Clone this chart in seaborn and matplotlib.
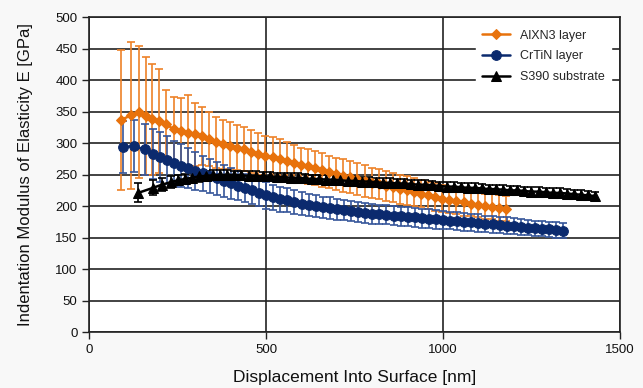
import numpy as np
import matplotlib
matplotlib.use("Agg")
import matplotlib.pyplot as plt
import seaborn as sns

# AlXN3 layer (orange diamonds)
alxn_x = [90, 118, 140, 160, 178, 196, 217, 238, 258, 278, 298, 318, 338, 358, 378,
          398, 418, 438, 458, 478, 498, 518, 538, 558, 578, 598, 618, 638, 658, 678,
          698, 718, 738, 758, 778, 798, 818, 838, 858, 878, 898, 918, 938, 958, 978,
          998, 1018, 1038, 1058, 1078, 1098, 1118, 1138, 1158, 1178]
alxn_y = [337, 344, 349, 343, 338, 335, 330, 322, 319, 316, 314, 312, 307, 301, 298,
          296, 293, 290, 286, 283, 279, 278, 275, 271, 268, 265, 263, 260, 257, 254,
          251, 248, 246, 243, 240, 237, 235, 232, 230, 227, 225, 222, 220, 217, 215,
          212, 210, 208, 206, 204, 202, 200, 199, 197, 196]
alxn_err = [111, 117, 105, 94, 88, 82, 55, 51, 53, 60, 50, 46, 43, 41, 39,
            37, 36, 35, 34, 33, 33, 32, 31, 30, 29, 28, 28, 27, 27, 26,
            26, 26, 25, 25, 25, 24, 24, 24, 23, 23, 23, 22, 22, 22, 22,
            21, 21, 21, 21, 20, 20, 20, 20, 20, 20]

# CrTiN layer (navy circles)
crtin_x = [94, 126, 157, 180, 200, 220, 240, 260, 280, 300, 320, 340, 360, 380, 400,
           420, 440, 460, 480, 500, 520, 540, 560, 580, 600, 620, 640, 660, 680, 700,
           720, 740, 760, 780, 800, 820, 840, 860, 880, 900, 920, 940, 960, 980, 1000,
           1020, 1040, 1060, 1080, 1100, 1120, 1140, 1160, 1180, 1200, 1220, 1240, 1260,
           1280, 1300, 1320, 1340]
crtin_y = [294, 295, 290, 283, 278, 273, 268, 264, 260, 256, 252, 248, 244, 240, 236,
           232, 229, 225, 221, 217, 214, 211, 209, 206, 204, 202, 200, 198, 197, 195,
           194, 192, 191, 189, 188, 187, 186, 185, 184, 183, 182, 181, 180, 179, 178,
           177, 176, 175, 174, 173, 172, 171, 170, 169, 168, 167, 166, 165,
           164, 163, 162, 161]
crtin_err = [41, 41, 40, 40, 40, 38, 36, 34, 32, 30, 28, 27, 26, 25, 24,
             23, 22, 22, 21, 21, 20, 20, 19, 19, 18, 18, 18, 17, 17, 17,
             16, 16, 16, 16, 16, 15, 15, 15, 15, 15, 15, 15, 15, 15, 15,
             14, 14, 14, 14, 14, 13, 13, 13, 13, 13, 13, 12, 12,
             12, 12, 12, 12]

# S390 substrate (black triangles)
s390_x = [138, 180, 205, 230, 250, 270, 290, 310, 330, 350, 370, 390, 410, 430, 450,
          470, 490, 510, 530, 550, 570, 590, 610, 630, 650, 670, 690, 710, 730, 750,
          770, 790, 810, 830, 850, 870, 890, 910, 930, 950, 970, 990, 1010, 1030, 1050,
          1070, 1090, 1110, 1130, 1150, 1170, 1190, 1210, 1230, 1250, 1270, 1290, 1310,
          1330, 1350, 1370, 1390, 1410, 1430]
s390_y = [221, 229, 234, 238, 241, 243, 245, 247, 248, 249, 249, 250, 249, 249, 248,
          248, 247, 247, 246, 246, 245, 245, 244, 243, 243, 242, 242, 241, 240, 240,
          239, 239, 238, 237, 237, 236, 236, 235, 234, 234, 233, 232, 231, 231, 230,
          229, 229, 228, 227, 227, 226, 225, 225, 224, 223, 223, 222, 221,
          221, 220, 219, 218, 217, 216]
s390_err = [15, 12, 10, 9, 8, 8, 8, 8, 8, 8, 8, 7, 7, 7, 7,
            7, 7, 7, 7, 7, 7, 7, 7, 7, 7, 7, 7, 7, 7, 7,
            7, 7, 7, 7, 7, 7, 7, 7, 7, 7, 7, 7, 7, 7, 7,
            7, 7, 7, 7, 7, 7, 7, 7, 7, 7, 7, 7, 7,
            7, 7, 7, 7, 7, 7]

sns.set_theme(style="white")
plt.rcParams['font.family'] = ['Liberation Sans', 'DejaVu Sans']

fig = plt.figure(figsize=(6.43, 3.88), dpi=100, facecolor="#f8f8f8")
ax = fig.add_axes([0.139, 0.144, 0.825, 0.812])
ax.set_facecolor("white")

series = [
    (alxn_x, alxn_y, alxn_err, "AlXN3 layer", "#e8720c", "#ee8228", "D", 5.5),
    (crtin_x, crtin_y, crtin_err, "CrTiN layer", "#0b2a6e", "#35559a", "o", 7),
    (s390_x, s390_y, s390_err, "S390 substrate", "black", "black", "^", 6.5),
]

for x, y, err, label, col, ecol, mk, ms in series:
    ax.errorbar(x, y, yerr=err, fmt="none", ecolor=ecol, elinewidth=1.2,
                capsize=3, capthick=1.2, zorder=2)
    sns.lineplot(x=x, y=y, ax=ax, color=col, marker=mk, markersize=ms,
                 markeredgecolor=col, linewidth=1.8, label=label, zorder=3)

ax.set_xlim(0, 1500)
ax.set_ylim(0, 500)
ax.set_xticks([0, 500, 1000, 1500])
ax.set_yticks(range(0, 501, 50))
ax.grid(True, color="#222222", linewidth=1.2)
ax.set_axisbelow(True)
for s in ax.spines.values():
    s.set_color("#222222")
    s.set_linewidth(1.2)
ax.tick_params(axis="both", direction="out", length=5, width=1, color="#222222",
               labelsize=9.5, labelcolor="#111111", left=True, bottom=True)

ax.set_xlabel("Displacement Into Surface [nm]", fontsize=12.5, labelpad=10,
              color="#111111")
ax.set_ylabel("Indentation Modulus of Elasticity E [GPa]", fontsize=12,
              labelpad=16, color="#111111")

leg = ax.legend(loc="upper right", bbox_to_anchor=(0.995, 1.0), fontsize=9,
                frameon=True, fancybox=False, framealpha=1, edgecolor="white",
                handlelength=2.2, borderpad=0.5, labelspacing=0.7)
leg.get_frame().set_facecolor("white")

fig.savefig("out.png", dpi=100, facecolor=fig.get_facecolor())
